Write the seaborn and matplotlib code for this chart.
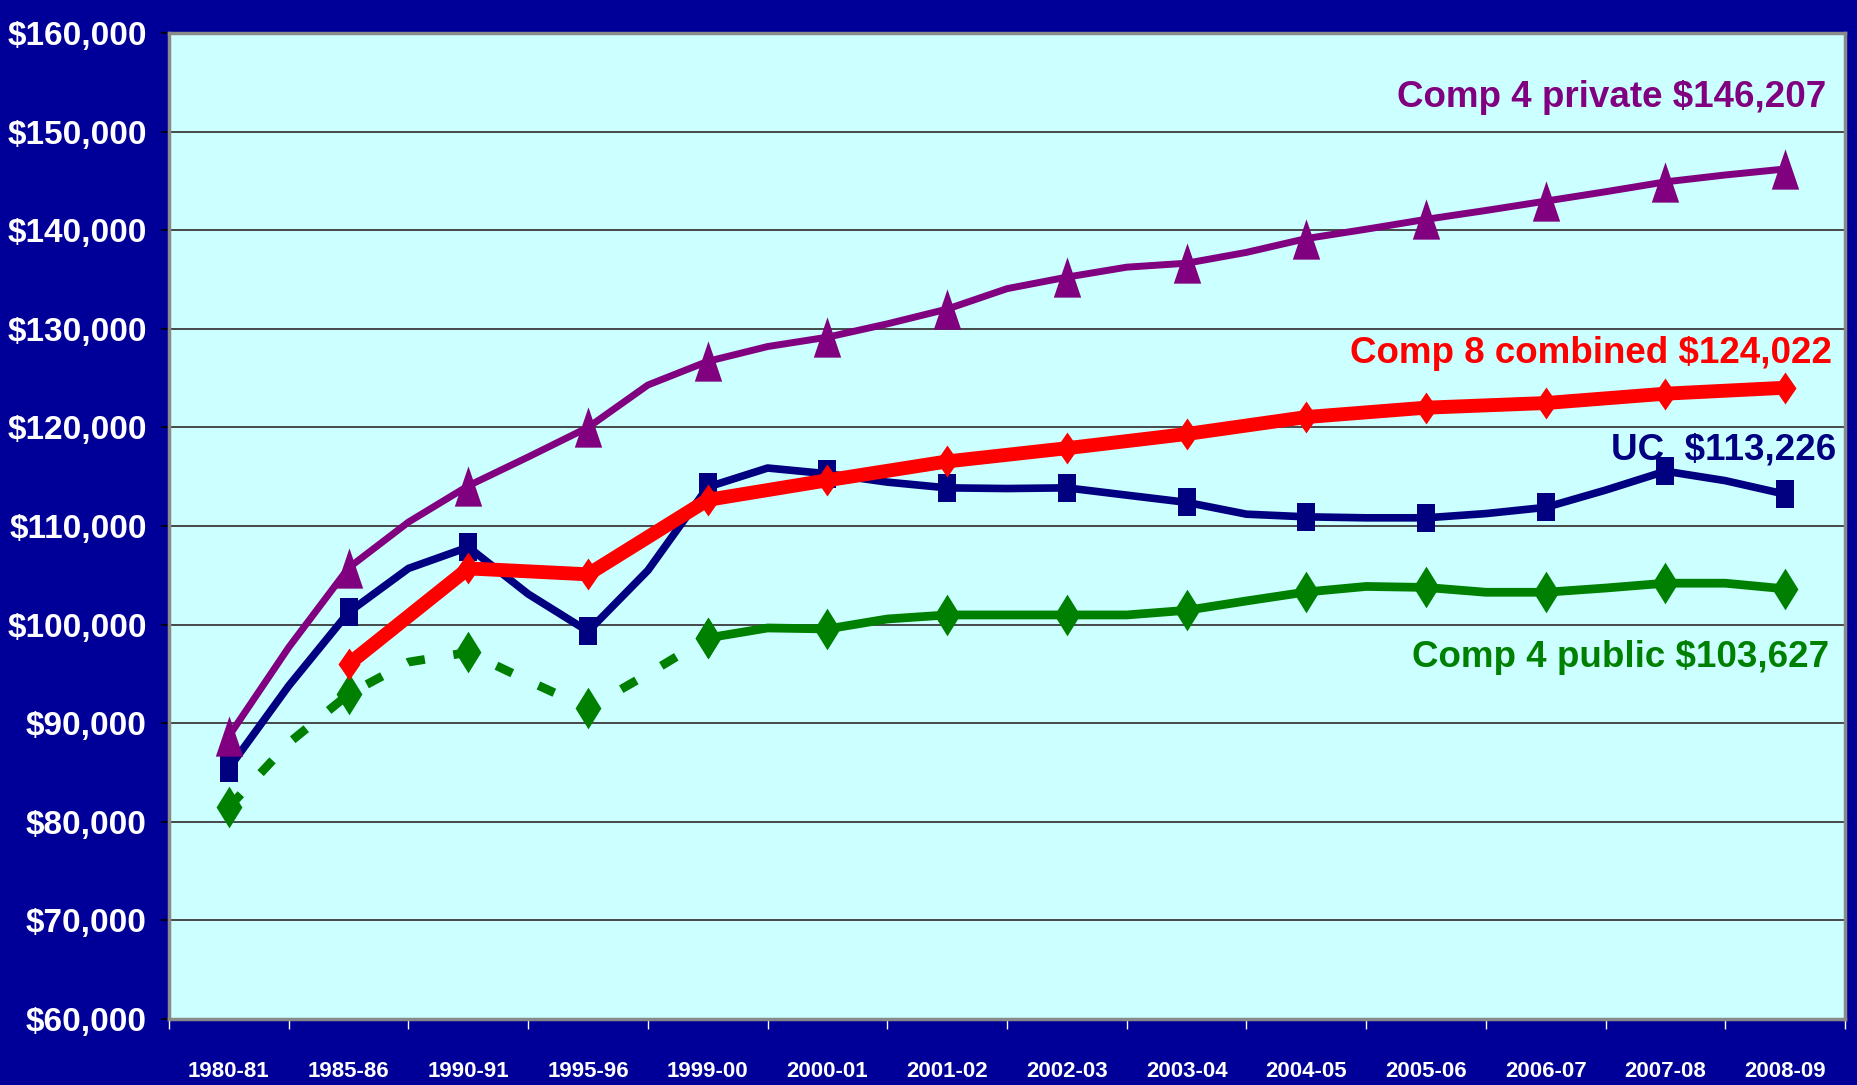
import numpy as np
import pandas as pd
import seaborn as sns
import matplotlib
matplotlib.use("Agg")
import matplotlib.pyplot as plt
from matplotlib import font_manager
from matplotlib.ticker import FuncFormatter

# %% Data
years = ["1980-81", "1985-86", "1990-91", "1995-96", "1999-00", "2000-01",
         "2001-02", "2002-03", "2003-04", "2004-05", "2005-06", "2006-07",
         "2007-08", "2008-09"]

# the lines bend between labels, so these are given on a half-step grid
# (label, midpoint, label, midpoint, ...)
private = [88700, 97700, 105760, 110400, 114080, 117000, 120000, 124300,
           126700, 128200, 129150, 130500, 132000, 134070, 135240, 136250,
           136650, 137750, 139150, 140100, 141100, 142000, 142950, 143900,
           144900, 145600, 146207]
uc = [85440, 93800, 101250, 105700, 107860, 103100, 99320, 105500,
      113950, 115880, 115300, 114450, 113870, 113800, 113870, 113130,
      112400, 111200, 110930, 110830, 110830, 111260, 111890, 113640,
      115560, 114600, 113226]
public = [81500, 88000, 92950, 96200, 97190, 94300, 91530, 95000,
          98650, 99660, 99560, 100570, 100980, 100980, 100980, 100980,
          101450, 102400, 103310, 103870, 103770, 103280, 103280, 103710,
          104200, 104200, 103627]
# combined series starts at 1985-86, values at the labels only
combined = [96000, 105700, 105100, 112650, 114640, 116550, 117890, 119330,
            121050, 122000, 122470, 123420, 124022]

labels = {"private": "Comp 4 private $146,207",
          "combined": "Comp 8 combined $124,022",
          "uc": "UC  $113,226",
          "public": "Comp 4 public $103,627"}

# %% Style
sns.set_theme(style="white")
names = {f.name for f in font_manager.fontManager.ttflist}
narrow = "Liberation Sans Narrow" if "Liberation Sans Narrow" in names else None
plt.rcParams["font.family"] = ["Liberation Sans", "DejaVu Sans"]

bg = "#000099"
panel = "#CCFFFF"
c_priv, c_uc, c_comb, c_pub = "#800080", "#000080", "#FF0000", "#008000"

# tall, narrow markers like the original
tri = [(0, 1), (-0.68, -1), (0.68, -1)]
sq = [(-0.63, -1), (0.63, -1), (0.63, 1), (-0.63, 1)]
dia_g = [(0, 1), (0.62, 0), (0, -1), (-0.62, 0)]
dia_r = [(0, 1), (0.69, 0), (0, -1), (-0.69, 0)]

half = np.arange(len(private)) / 2.0
df = pd.DataFrame({"x": half, "private": private, "uc": uc, "public": public})
comb = pd.DataFrame({"x": np.arange(1, len(years)), "combined": combined})

fig = plt.figure(figsize=(18.58, 10.85), dpi=100, facecolor=bg)
ax = fig.add_axes([0.091, 0.0608, 0.902, 0.9088])
ax.set_facecolor(panel)

common = dict(ax=ax, errorbar=None, sort=False, markeredgewidth=0,
              solid_joinstyle="round", legend=False)
# green: dashed up to 1999-00, solid after
early = df[df["x"] <= 4]
late = df[df["x"] >= 4]
sns.lineplot(data=early, x="x", y="public", color=c_pub, lw=6.3,
             linestyle=(0, (2.0, 3.3)), dash_capstyle="butt",
             marker=dia_g, markersize=30, markevery=2, zorder=2, **common)
sns.lineplot(data=late, x="x", y="public", color=c_pub, lw=6.3,
             marker=dia_g, markersize=30, markevery=2, zorder=2, **common)
sns.lineplot(data=df, x="x", y="uc", color=c_uc, lw=5.5,
             marker=sq, markersize=19.5, markevery=2, zorder=3, **common)
sns.lineplot(data=comb, x="x", y="combined", color=c_comb, lw=10,
             marker=dia_r, markersize=23, zorder=4, **common)
sns.lineplot(data=df, x="x", y="private", color=c_priv, lw=5,
             marker=tri, markersize=29, markevery=2, zorder=5, **common)

# %% Axes
ax.set_xlim(-0.5, len(years) - 0.5)
ax.set_ylim(60000, 160000)
ax.set_yticks(range(60000, 160001, 10000))
ax.yaxis.set_major_formatter(FuncFormatter(lambda v, p: f"${v:,.0f}"))
ax.set_xticks(range(len(years)))
ax.set_xticklabels(years)
ax.set_xticks(np.arange(-0.5, len(years), 1), minor=True)
ax.set_xlabel("")
ax.set_ylabel("")
ax.yaxis.grid(True, color="#3a3a3a", lw=1.3)
ax.xaxis.grid(False)
ax.set_axisbelow(True)

for s in ax.spines.values():
    s.set_color("#8a8a8a")
    s.set_linewidth(2.5)

ax.tick_params(axis="y", length=6, width=1.2, color="black", labelcolor="white",
               pad=10, left=True)
ax.tick_params(axis="x", which="major", length=0, labelcolor="white", pad=30)
ax.tick_params(axis="x", which="minor", length=7, width=1, color="white",
               direction="out", bottom=True)

if narrow:
    ysize, xsize, fam = 29, 19.5, [narrow, "Liberation Sans"]
else:
    ysize, xsize, fam = 24, 16, ["Liberation Sans", "DejaVu Sans"]
for t in ax.get_yticklabels():
    t.set_fontfamily(fam)
    t.set_fontsize(ysize)
    t.set_fontweight("bold")
for t in ax.get_xticklabels():
    t.set_fontfamily(fam)
    t.set_fontsize(xsize)
    t.set_fontweight("bold")

# %% Series labels
lab = dict(ha="right", va="baseline", fontsize=26.5, fontweight="bold")
ax.text(13.34, 152500, labels["private"], color=c_priv, **lab)
ax.text(13.39, 126530, labels["combined"], color=c_comb, **lab)
ax.text(13.43, 116700, labels["uc"], color=c_uc, **lab)
ax.text(13.37, 95700, labels["public"], color=c_pub, **lab)

plt.savefig("out.png", dpi=100, facecolor=fig.get_facecolor())
plt.close()
